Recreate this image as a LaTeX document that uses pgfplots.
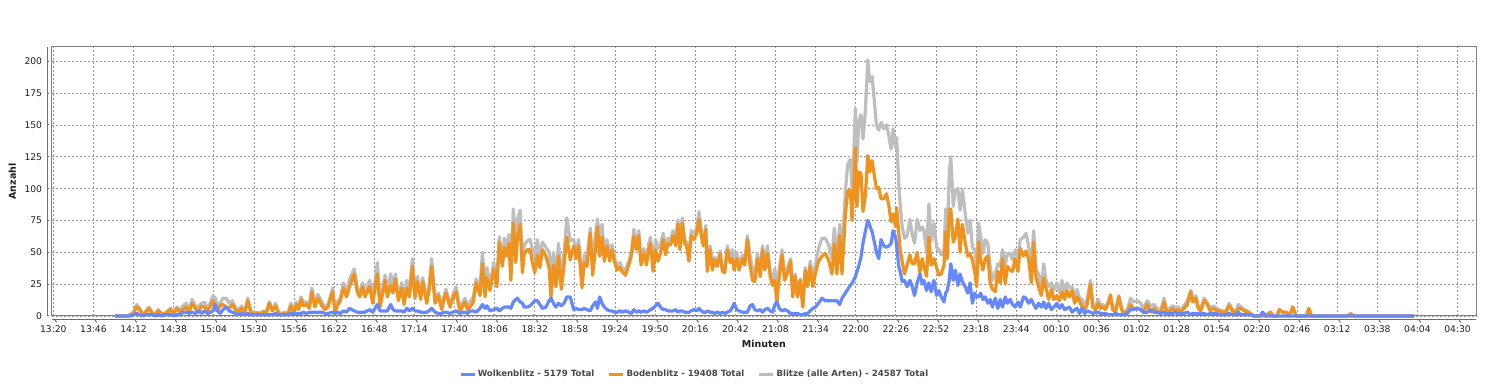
\documentclass[border=0pt]{standalone}
\usepackage{fontspec}
\setmainfont{DejaVu Sans}
\usepackage{pgfplots}
\usepackage{pgfplotstable}
\pgfplotsset{compat=1.18}
\definecolor{cblue}{RGB}{102,136,255}
\definecolor{corange}{RGB}{240,146,30}
\definecolor{cgrey}{RGB}{190,190,190}
\definecolor{gridc}{RGB}{150,150,150}
\definecolor{borderc}{RGB}{128,128,128}
\definecolor{axisc}{RGB}{110,110,110}
\definecolor{txt}{RGB}{30,30,30}

\pgfplotstableread{
x b o g
40 0 0 0
44 0 0 0
48 0 0 0
50 0 1 1
52 1 2 3
54 2 7 9
56 1 5 6
58 0 1 1
60 1 3 4
62 1 6 7
64 1 2 3
66 0 1 1
68 1 4 5
70 0 2 2
72 1 1 2
74 1 3 4
76 1 5 6
78 0 2 2
80 1 6 7
82 1 3 4
84 3 5 8
86 3 7 10
88 2 3 5
90 3 10 13
92 2 6 8
94 4 3 7
96 2 8 10
98 4 7 11
100 2 4 6
102 3 8 11
103.5 4 12 16
105 9 5 14
106.5 4 4 8
108 2 8 10
110 5 9 14
112 7 7 14
114 4 6 10
116 3 9 12
118 2 5 7
120 1 3 4
122 2 6 8
124 1 2 3
126 2 12 14
128 1 3 4
130 1 1 2
132 1 2 3
134 1 1 2
136 1 3 4
138 1 2 3
140 1 10 11
142 1 4 5
144 2 8 10
146 1 2 3
148 1 1 2
150 1 2 3
152 1 1 2
154 2 8 10
156 2 2 4
157.5 2 9 11
159 2 5 7
160.5 2 13 15
162 3 8 11
164 2 9 11
166 3 6 9
167.5 3 19 22
169.5 3 7 10
171.5 3 14 17
174 3 8 11
176 2 5 7
178 2 7 9
181 3 19 22
182.6 2 3 5
184 3 8 11
186 2 12 14
188 4 22 26
190 3 15 18
192 6 23 29
195 4 33 37
197 3 19 22
198.5 3 15 18
200.5 3 23 26
202 3 15 18
205 5 23 28
207 3 10 13
210 9 33 42
211.7 4 7 11
213.5 4 18 22
215 4 28 32
216.5 4 15 19
218.6 9 24 33
220.2 5 18 23
221.7 4 29 33
223.6 4 12 16
225.8 4 22 26
227.3 3 9 12
229.1 6 22 28
230.8 4 15 19
232.7 6 39 45
234.4 4 14 18
236 4 27 31
238.1 3 13 16
239.4 3 27 30
242 3 10 13
243.5 4 20 24
245.2 6 39 45
247.4 3 10 13
249.6 2 16 18
251.7 2 5 7
253 3 12 15
254.5 3 18 21
257.1 2 7 9
259 3 14 17
261 4 19 23
263.6 2 3 5
265 3 7 10
266.8 3 11 14
268.5 2 5 7
270.1 4 7 11
272.2 4 11 15
274 3 26 29
276.5 6 16 22
278.1 9 41 50
279.8 6 15 21
281 8 30 38
283 4 20 24
285.4 5 37 42
287.5 6 23 29
289 4 58 62
291 6 39 45
292.3 7 54 61
293.7 7 47 54
295.3 7 57 64
296.5 6 28 34
298.1 11 73 84
299.7 13 42 55
300.8 14 62 76
302.5 11 72 83
304 10 34 44
305.2 7 49 56
307.2 7 52 59
309 8 52 60
310.5 10 42 52
312 12 34 46
313.7 12 48 60
315.3 9 38 47
317 6 52 58
319.2 7 47 54
321.3 12 38 50
322.5 14 15 29
324.1 10 40 50
325.7 7 23 30
327.4 10 47 57
329.2 8 21 29
331 10 40 50
332.8 15 62 77
335 15 44 59
337.2 5 55 60
338.9 6 45 51
340.4 5 55 60
342.6 5 22 27
344.1 6 42 48
345.8 5 39 44
348 4 65 69
349.5 8 32 40
351.3 11 52 63
352.6 6 70 76
354.1 15 47 62
355.6 10 62 72
357.1 7 43 50
358.8 5 55 60
360.6 4 43 47
362.1 4 52 56
363.6 3 43 46
365.3 3 36 39
367.1 4 38 42
368.6 3 35 38
370.8 4 32 36
372.9 3 40 43
374.7 2 48 50
376.2 5 63 68
377.9 3 52 55
379.4 4 63 67
380.9 3 40 43
382.7 4 49 53
384.4 3 40 43
385.9 4 53 57
387 5 57 62
388.7 6 35 41
390.3 8 52 60
391.8 10 43 53
393.5 7 49 56
395.2 5 60 65
396.8 5 48 53
398.3 4 57 61
400 4 56 60
401.7 4 63 67
403.3 5 55 60
404.8 3 72 75
406.1 4 52 56
407.6 4 73 77
409.1 3 57 60
410.4 3 55 58
411.9 3 43 46
413.4 4 63 67
415.2 5 60 65
416.9 4 65 69
418.4 6 76 82
419.9 4 63 67
421.2 3 55 58
422.8 3 68 71
423.8 4 35 39
425.6 3 52 55
427.1 3 36 39
428.6 2 44 46
430.3 3 39 42
432.1 2 49 51
433.6 3 35 38
435.1 2 34 36
436.8 3 52 55
438.6 4 42 46
440.1 7 45 52
441.2 10 36 46
442.9 5 45 50
444.4 4 36 40
446.6 3 45 48
448.1 3 40 43
449.8 3 60 63
451.6 8 39 47
453.1 9 28 37
454.6 5 27 32
456.3 4 45 49
458.1 5 31 36
459.6 3 52 55
461.1 5 36 41
462.8 6 49 55
464.6 4 31 35
466.1 3 24 27
467.6 9 28 37
468.9 11 10 21
470.4 6 30 36
472.2 4 48 52
473.9 5 28 33
475.8 4 34 38
477.8 2 43 45
479.2 2 15 17
480.8 2 31 33
482.3 2 15 17
484 1 28 29
485.7 1 7 8
487.3 2 36 38
488.8 2 23 25
490.5 4 39 43
492.2 6 23 29
493.8 7 33 40
495.9 10 43 53
498.1 14 47 61
500.3 12 49 61
502.4 12 44 56
504.6 12 33 45
506.1 12 57 69
507.8 12 33 45
509.6 9 63 72
511.1 14 33 47
513.3 18 80 98
514.8 21 98 119
516.5 24 99 123
517.6 26 75 101
518.7 28 99 127
519.8 31 132 163
520.8 35 86 121
521.9 39 113 152
523.4 46 112 158
524.7 57 82 139
526.3 67 95 162
527.8 75 126 201
529.1 71 113 184
530.6 66 122 188
532.1 58 110 168
533.4 50 100 150
534.9 45 101 146
536.4 60 92 152
538.2 55 92 147
539.9 54 96 150
541.4 55 87 142
542.9 57 74 131
544.2 67 80 147
545.8 62 70 132
546.5 55 85 140
547.9 39 65 104
548.8 35 52 87
550.1 27 43 70
551.6 28 33 61
553.3 23 40 63
555.1 28 48 76
556.6 23 41 64
558.1 16 41 57
559.8 26 50 76
561.6 33 34 67
563.1 25 45 70
564.2 28 39 67
565.9 20 31 51
567.4 26 62 88
568.9 19 40 59
570.7 28 45 73
572.4 16 38 54
573.9 20 32 52
575.4 15 33 48
577.2 11 40 51
578.3 18 66 84
579.3 20 45 65
580.6 28 83 111
581.6 41 84 125
583.2 28 58 86
584.6 36 63 99
586.2 24 76 100
587.6 33 50 83
589.1 27 72 99
590.9 23 58 81
592.6 18 47 65
594.1 26 49 75
595.6 10 44 54
597.2 18 34 52
598.4 15 23 38
599.6 15 58 73
601 18 44 62
602.4 13 36 49
603.9 15 45 60
605.6 10 47 57
607.1 13 26 39
608.6 7 21 28
610.4 14 19 33
612.1 6 35 41
613.6 13 26 39
615.1 7 45 52
616.9 15 25 40
618.3 10 39 49
620.1 13 36 49
621.6 9 35 44
623.4 7 45 52
625.1 11 35 46
626.6 7 53 60
628.8 15 47 62
630.3 14 51 65
632 10 45 55
633.8 13 26 39
635.3 9 58 67
636.8 6 30 36
638.5 10 23 33
640.3 7 16 23
641.8 11 30 41
643.3 6 22 28
645 10 13 23
646.8 5 21 26
648.3 7 13 20
650.4 10 16 26
652 6 12 18
653.7 9 19 28
655.4 5 13 18
656.9 6 20 26
658.5 7 15 22
660.2 3 20 23
661.9 5 10 15
663.4 6 15 21
665 2 12 14
666.7 6 7 13
668.4 2 5 7
670 4 9 13
672.1 3 25 28
673.6 2 7 9
675.4 3 5 8
677.1 3 10 13
678.6 2 6 8
680.1 2 7 9
681.9 2 5 7
683.6 1 10 11
685.1 1 16 17
686.6 1 5 6
688.4 2 3 5
690.5 1 15 16
692.3 1 5 6
693.8 1 2 3
696 2 3 5
698.1 5 9 14
700 5 6 11
702.4 6 6 12
704.6 5 5 10
706.3 3 3 6
708.9 3 9 12
711.1 5 3 8
713.3 3 6 9
715.4 3 3 6
717.6 2 2 4
719.8 3 11 14
720.9 2 5 7
723 2 3 5
725.2 2 6 8
726.7 3 4 7
728.9 2 5 7
730.6 2 3 5
732.8 2 6 8
734.9 3 9 12
737.1 1 19 20
738.4 2 11 13
740.4 2 14 16
741.9 2 6 8
743.6 2 4 6
745.8 2 12 14
747.5 1 10 11
749.7 2 4 6
751.8 2 6 8
754 2 4 6
755.5 1 4 5
757.7 1 3 4
759.9 1 3 4
762 2 8 10
764.2 1 4 5
766.4 1 2 3
767.9 3 6 9
769.6 1 6 7
771.8 1 4 5
773.9 1 3 4
776.1 1 1 2
778 0 0 0
782 0 0 0
783.7 3 0 3
785.5 0 0 0
788.7 0 3 3
790.5 0 0 0
793 0 0 0
794.5 0 5 5
796.7 0 3 3
798.9 0 3 3
801 0 0 0
803.2 0 7 7
805.4 0 0 0
812 0 0 0
813.6 0 6 6
815.4 0 0 0
839 0 0 0
840.7 0 2 2
842.5 0 0 0
860 0 0 0
882 0 0 0
}\datatab

\begin{document}
\begin{tikzpicture}
\useasboundingbox (0,0) rectangle (1489pt,390pt);
\begin{axis}[
  at={(51.7pt,74pt)}, anchor=south west,
  scale only axis, width=1424.3pt, height=269pt,
  xmin=-1.04, xmax=922, ymin=0, ymax=211.2,
  clip=false,
  axis line style={borderc, line width=1pt},
  xtick={0,26,...,910},
  xticklabels={13:20,13:46,14:12,14:38,15:04,15:30,15:56,16:22,16:48,17:14,17:40,18:06,18:32,18:58,19:24,19:50,20:16,20:42,21:08,21:34,22:00,22:26,22:52,23:18,23:44,00:10,00:36,01:02,01:28,01:54,02:20,02:46,03:12,03:38,04:04,04:30},
  ytick={0,25,...,200},
  grid=major,
  major grid style={gridc, line width=0.8pt, dash pattern=on 2pt off 2pt},
  major tick length=0pt,
  tick style={draw=none},
  /pgf/number format/assume math mode=true,
  xticklabel style={font=\fontsize{9.2}{11}\selectfont, text=txt, inner sep=0pt, text height=6.8pt, text depth=0pt, anchor=north, yshift=-10pt},
  yticklabel style={font=\fontsize{9.2}{11}\selectfont, text=txt, inner sep=0pt, text height=6.8pt, text depth=0pt, anchor=east, xshift=-9.4pt},
  xlabel={Minuten}, ylabel={Anzahl},
  xlabel style={font=\bfseries\fontsize{9.5}{11}\selectfont, text=txt, inner sep=0pt, at={(axis description cs:0.5,-0.104)}, anchor=center},
  ylabel style={font=\bfseries\fontsize{9.5}{11}\selectfont, text=txt, inner sep=0pt, at={(axis description cs:-0.0277,0.5)}, anchor=center},
  legend columns=3,
  reverse legend,
  legend style={at={(axis description cs:0.286,-0.2167)}, anchor=west, draw=none, fill=none, inner sep=0pt,
    font=\bfseries\fontsize{8.6}{10}\selectfont,
    nodes={inner xsep=2pt, inner ysep=1pt, text=black!72},
    /tikz/every even column/.append style={column sep=11.7pt}},
  legend image code/.code={\draw[#1, line width=2.5pt, line cap=butt] (0pt,0pt) -- (14pt,0pt);},
]
\addplot[cgrey, line width=3.2pt, line join=round, no markers] table[x=x, y=g] {\datatab};
\addlegendentry{Blitze (alle Arten) - 24587 Total}
\addplot[corange, line width=3.2pt, line join=round, no markers] table[x=x, y=o] {\datatab};
\addlegendentry{Bodenblitz - 19408 Total}
\addplot[cblue, line width=3.2pt, line join=round, no markers] table[x=x, y=b] {\datatab};
\addlegendentry{Wolkenblitz - 5179 Total}

\draw[axisc, line width=1pt] ([xshift=-4pt]rel axis cs:0,0) -- ([xshift=-4pt]rel axis cs:0,1);
\draw[axisc, line width=1pt] ([yshift=-4pt]rel axis cs:0,0) -- ([yshift=-4pt]rel axis cs:1,0);
\pgfplotsinvokeforeach{0,26,...,910}{\draw[axisc, line width=1pt] (axis cs:#1,0) ++(0,-4pt) -- ++(0,-2.5pt);}
\pgfplotsinvokeforeach{0,25,...,200}{\draw[axisc, line width=1pt] (axis cs:-1.04,#1) ++(-4pt,0) -- ++(-2.5pt,0);}
\end{axis}
\end{tikzpicture}
\end{document}
